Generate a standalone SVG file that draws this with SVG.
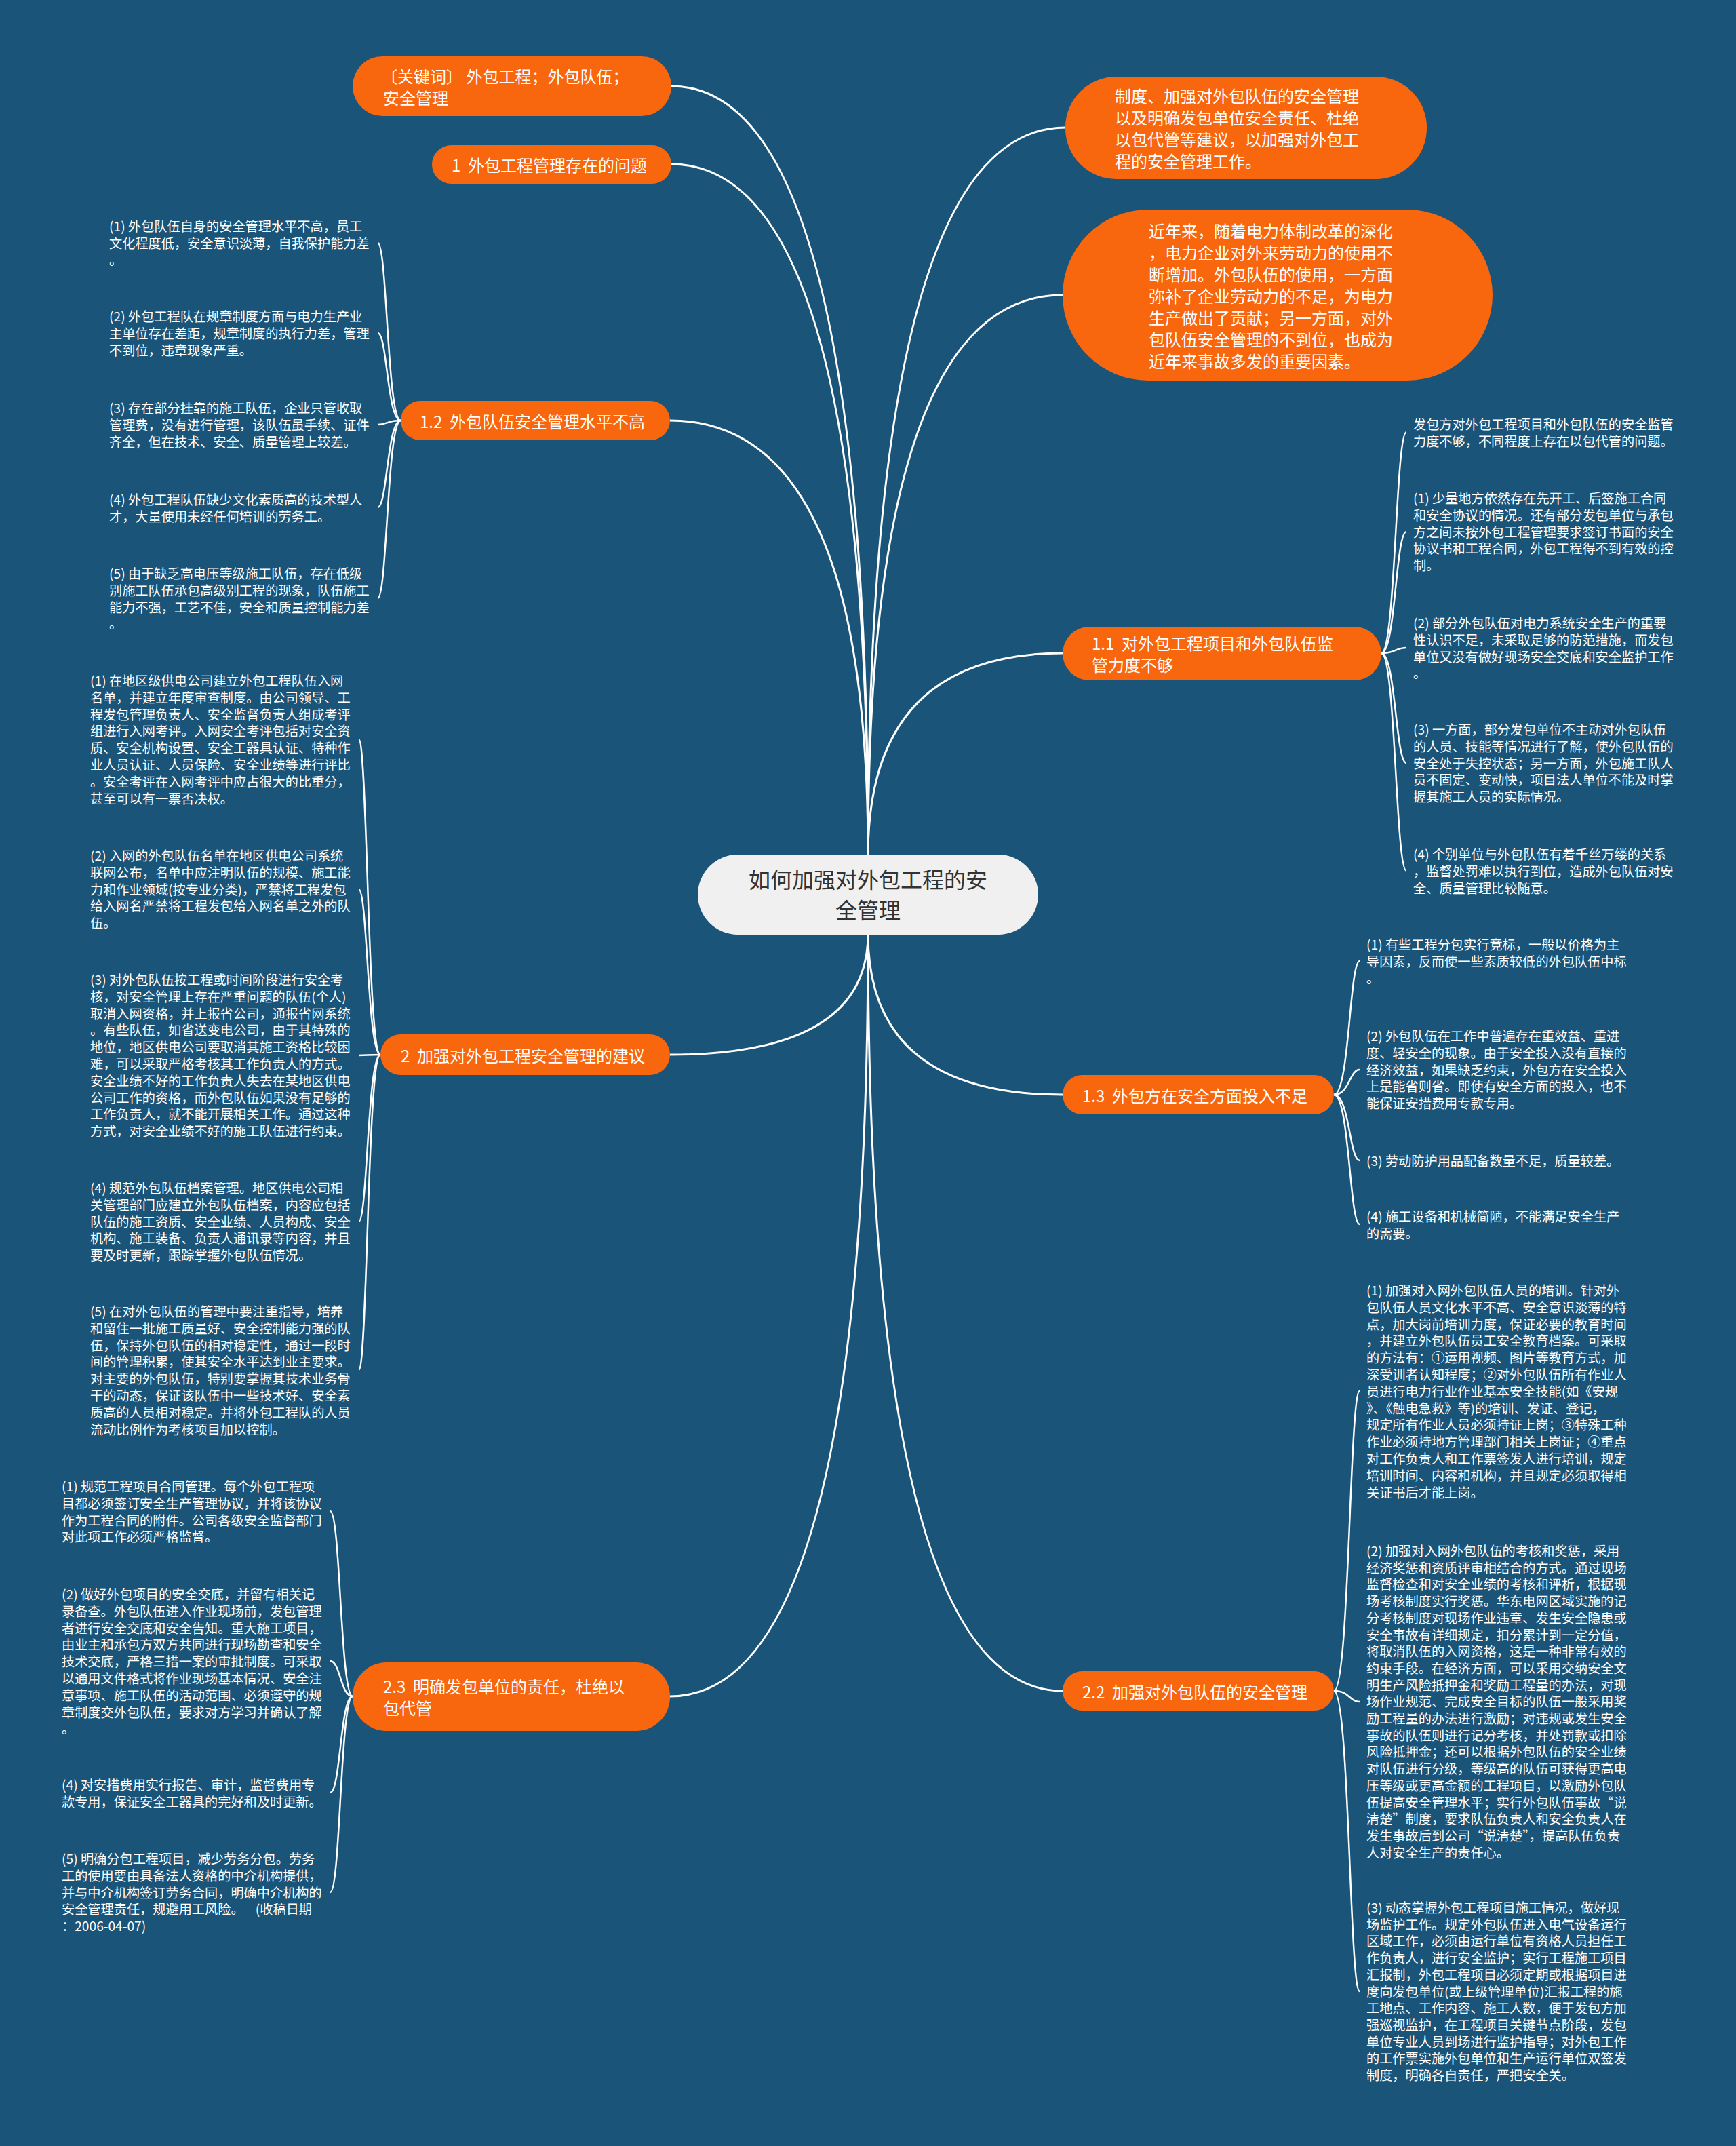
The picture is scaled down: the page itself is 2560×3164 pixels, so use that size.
<svg xmlns="http://www.w3.org/2000/svg" width="2560" height="3164" viewBox="0 0 2560 3164">
<defs>
<style>
text{font-family:"Noto Sans CJK SC","Noto Sans",sans-serif;dominant-baseline:central}
.o rect{fill:#f8660d}
.o text{fill:#ffffff;font-size:24px}
.c rect{fill:#f0f0f0}
.c text{fill:#333333;font-size:32px;text-anchor:middle}
.leaf{fill:#ffffff;font-size:19.2px}
.main{stroke:#ffffff;stroke-width:3;fill:none}
.sub{stroke:#ffffff;stroke-width:2.5;fill:none}
</style>
</defs>
<rect x="0" y="0" width="2560" height="3164" fill="#1a5479"/>

<g id="connectors">
<path class="main" d="M1280,1261 Q1280,127 990,127"/>
<path class="main" d="M1280,1261 Q1280,242 990,242"/>
<path class="main" d="M1280,1261 Q1280,620 988,620"/>
<path class="main" d="M1280,1377 Q1280,1555 988,1555"/>
<path class="main" d="M1280,1377 Q1280,2501 988,2501"/>
<path class="main" d="M1280,1261 Q1280,188 1571,188"/>
<path class="main" d="M1280,1261 Q1280,435 1567,435"/>
<path class="main" d="M1280,1261 Q1280,963 1567,963"/>
<path class="main" d="M1280,1377 Q1280,1614 1567,1614"/>
<path class="main" d="M1280,1377 Q1280,2493 1567,2493"/>

<path class="sub" d="M591,620 C571,620 571,358 557,358"/>
<path class="sub" d="M591,620 C571,620 571,491 557,491"/>
<path class="sub" d="M591,620 C571,620 571,626 557,626"/>
<path class="sub" d="M591,620 C571,620 571,748 557,748"/>
<path class="sub" d="M591,620 C571,620 571,882 557,882"/>

<path class="sub" d="M561,1555 C542,1555 542,1090 529,1090"/>
<path class="sub" d="M561,1555 C542,1555 542,1311 529,1311"/>
<path class="sub" d="M561,1555 C542,1555 542,1556 529,1556"/>
<path class="sub" d="M561,1555 C542,1555 542,1801 529,1801"/>
<path class="sub" d="M561,1555 C542,1555 542,2020 529,2020"/>

<path class="sub" d="M520,2501 C502,2501 502,2228 487,2228"/>
<path class="sub" d="M520,2501 C502,2501 502,2449 487,2449"/>
<path class="sub" d="M520,2501 C502,2501 502,2643 487,2643"/>
<path class="sub" d="M520,2501 C502,2501 502,2790 487,2790"/>

<path class="sub" d="M2037,963 C2058,963 2058,637 2074,637"/>
<path class="sub" d="M2037,963 C2058,963 2058,784 2074,784"/>
<path class="sub" d="M2037,963 C2058,963 2058,955 2074,955"/>
<path class="sub" d="M2037,963 C2058,963 2058,1125 2074,1125"/>
<path class="sub" d="M2037,963 C2058,963 2058,1284 2074,1284"/>

<path class="sub" d="M1967,1614 C1990,1614 1990,1417 2005,1417"/>
<path class="sub" d="M1967,1614 C1990,1614 1990,1577 2005,1577"/>
<path class="sub" d="M1967,1614 C1990,1614 1990,1711 2005,1711"/>
<path class="sub" d="M1967,1614 C1990,1614 1990,1805 2005,1805"/>

<path class="sub" d="M1967,2493 C1990,2493 1990,2051 2005,2051"/>
<path class="sub" d="M1967,2493 C1990,2493 1990,2509 2005,2509"/>
<path class="sub" d="M1967,2493 C1990,2493 1990,2936 2005,2936"/>
</g>

<g id="center" class="c">
<rect x="1029" y="1260" width="502" height="118" rx="59"/>
<text x="1280" y="1295">如何加强对外包工程的安</text>
<text x="1280" y="1340">全管理</text>
</g>

<g id="n-keyword" class="o">
<rect x="520" y="83" width="470" height="88" rx="44"/>
<text x="562" y="111" xml:space="preserve">〔关键词〕 外包工程；外包队伍；</text>
<text x="565" y="143">安全管理</text>
</g>
<g id="n-1" class="o">
<rect x="637" y="214" width="353" height="57" rx="28.5"/>
<text x="666" y="242" xml:space="preserve">1  外包工程管理存在的问题</text>
</g>
<g id="n-1-2" class="o">
<rect x="591" y="591" width="397" height="58" rx="29"/>
<text x="619" y="620" xml:space="preserve">1.2  外包队伍安全管理水平不高</text>
</g>
<g id="n-2" class="o">
<rect x="561" y="1525" width="427" height="60" rx="30"/>
<text x="591" y="1555" xml:space="preserve">2  加强对外包工程安全管理的建议</text>
</g>
<g id="n-2-3" class="o">
<rect x="520" y="2451" width="468" height="101" rx="50"/>
<text x="565" y="2485" xml:space="preserve">2.3  明确发包单位的责任，杜绝以</text>
<text x="565" y="2517">包代管</text>
</g>
<g id="n-zhidu" class="o">
<rect x="1571" y="113" width="533" height="151" rx="75"/>
<text x="1644" y="140.5">制度、加强对外包队伍的安全管理</text>
<text x="1644" y="172.5">以及明确发包单位安全责任、杜绝</text>
<text x="1644" y="204.5">以包代管等建议，以加强对外包工</text>
<text x="1644" y="236.5">程的安全管理工作。</text>
</g>
<g id="n-jinnian" class="o">
<rect x="1567" y="309" width="634" height="252" rx="126"/>
<text x="1694" y="339">近年来，随着电力体制改革的深化</text>
<text x="1694" y="371">，电力企业对外来劳动力的使用不</text>
<text x="1694" y="403">断增加。外包队伍的使用，一方面</text>
<text x="1694" y="435">弥补了企业劳动力的不足，为电力</text>
<text x="1694" y="467">生产做出了贡献；另一方面，对外</text>
<text x="1694" y="499">包队伍安全管理的不到位，也成为</text>
<text x="1694" y="531">近年来事故多发的重要因素。</text>
</g>
<g id="n-1-1" class="o">
<rect x="1567" y="924" width="470" height="79" rx="39.5"/>
<text x="1610" y="947" xml:space="preserve">1.1  对外包工程项目和外包队伍监</text>
<text x="1610" y="979">管力度不够</text>
</g>
<g id="n-1-3" class="o">
<rect x="1567" y="1585" width="400" height="58" rx="29"/>
<text x="1596" y="1614" xml:space="preserve">1.3  外包方在安全方面投入不足</text>
</g>
<g id="n-2-2" class="o">
<rect x="1567" y="2464" width="400" height="58" rx="29"/>
<text x="1596" y="2493" xml:space="preserve">2.2  加强对外包队伍的安全管理</text>
</g>

<g id="l-1-2-1"><text class="leaf" x="161" y="333"><tspan x="161" dy="0">(1) 外包队伍自身的安全管理水平不高，员工</tspan><tspan x="161" dy="24.8">文化程度低，安全意识淡薄，自我保护能力差</tspan><tspan x="161" dy="24.8">。</tspan></text></g>
<g id="l-1-2-2"><text class="leaf" x="161" y="466"><tspan x="161" dy="0">(2) 外包工程队在规章制度方面与电力生产业</tspan><tspan x="161" dy="24.8">主单位存在差距，规章制度的执行力差，管理</tspan><tspan x="161" dy="24.8">不到位，违章现象严重。</tspan></text></g>
<g id="l-1-2-3"><text class="leaf" x="161" y="601"><tspan x="161" dy="0">(3) 存在部分挂靠的施工队伍，企业只管收取</tspan><tspan x="161" dy="24.8">管理费，没有进行管理，该队伍虽手续、证件</tspan><tspan x="161" dy="24.8">齐全，但在技术、安全、质量管理上较差。</tspan></text></g>
<g id="l-1-2-4"><text class="leaf" x="161" y="736"><tspan x="161" dy="0">(4) 外包工程队伍缺少文化素质高的技术型人</tspan><tspan x="161" dy="24.8">才，大量使用未经任何培训的劳务工。</tspan></text></g>
<g id="l-1-2-5"><text class="leaf" x="161" y="845"><tspan x="161" dy="0">(5) 由于缺乏高电压等级施工队伍，存在低级</tspan><tspan x="161" dy="24.8">别施工队伍承包高级别工程的现象，队伍施工</tspan><tspan x="161" dy="24.8">能力不强，工艺不佳，安全和质量控制能力差</tspan><tspan x="161" dy="24.8">。</tspan></text></g>

<g id="l-2-1"><text class="leaf" x="133" y="1003"><tspan x="133" dy="0">(1) 在地区级供电公司建立外包工程队伍入网</tspan><tspan x="133" dy="24.8">名单，并建立年度审查制度。由公司领导、工</tspan><tspan x="133" dy="24.8">程发包管理负责人、安全监督负责人组成考评</tspan><tspan x="133" dy="24.8">组进行入网考评。入网安全考评包括对安全资</tspan><tspan x="133" dy="24.8">质、安全机构设置、安全工器具认证、特种作</tspan><tspan x="133" dy="24.8">业人员认证、人员保险、安全业绩等进行评比</tspan><tspan x="133" dy="24.8">。安全考评在入网考评中应占很大的比重分，</tspan><tspan x="133" dy="24.8">甚至可以有一票否决权。</tspan></text></g>
<g id="l-2-2"><text class="leaf" x="133" y="1261"><tspan x="133" dy="0">(2) 入网的外包队伍名单在地区供电公司系统</tspan><tspan x="133" dy="24.8">联网公布，名单中应注明队伍的规模、施工能</tspan><tspan x="133" dy="24.8">力和作业领域(按专业分类)，严禁将工程发包</tspan><tspan x="133" dy="24.8">给入网名严禁将工程发包给入网名单之外的队</tspan><tspan x="133" dy="24.8">伍。</tspan></text></g>
<g id="l-2-3"><text class="leaf" x="133" y="1444"><tspan x="133" dy="0">(3) 对外包队伍按工程或时间阶段进行安全考</tspan><tspan x="133" dy="24.8">核，对安全管理上存在严重问题的队伍(个人)</tspan><tspan x="133" dy="24.8">取消入网资格，并上报省公司，通报省网系统</tspan><tspan x="133" dy="24.8">。有些队伍，如省送变电公司，由于其特殊的</tspan><tspan x="133" dy="24.8">地位，地区供电公司要取消其施工资格比较困</tspan><tspan x="133" dy="24.8">难，可以采取严格考核其工作负责人的方式。</tspan><tspan x="133" dy="24.8">安全业绩不好的工作负责人失去在某地区供电</tspan><tspan x="133" dy="24.8">公司工作的资格，而外包队伍如果没有足够的</tspan><tspan x="133" dy="24.8">工作负责人，就不能开展相关工作。通过这种</tspan><tspan x="133" dy="24.8">方式，对安全业绩不好的施工队伍进行约束。</tspan></text></g>
<g id="l-2-4"><text class="leaf" x="133" y="1751"><tspan x="133" dy="0">(4) 规范外包队伍档案管理。地区供电公司相</tspan><tspan x="133" dy="24.8">关管理部门应建立外包队伍档案，内容应包括</tspan><tspan x="133" dy="24.8">队伍的施工资质、安全业绩、人员构成、安全</tspan><tspan x="133" dy="24.8">机构、施工装备、负责人通讯录等内容，并且</tspan><tspan x="133" dy="24.8">要及时更新，跟踪掌握外包队伍情况。</tspan></text></g>
<g id="l-2-5"><text class="leaf" x="133" y="1933"><tspan x="133" dy="0">(5) 在对外包队伍的管理中要注重指导，培养</tspan><tspan x="133" dy="24.8">和留住一批施工质量好、安全控制能力强的队</tspan><tspan x="133" dy="24.8">伍，保持外包队伍的相对稳定性，通过一段时</tspan><tspan x="133" dy="24.8">间的管理积累，使其安全水平达到业主要求。</tspan><tspan x="133" dy="24.8">对主要的外包队伍，特别要掌握其技术业务骨</tspan><tspan x="133" dy="24.8">干的动态，保证该队伍中一些技术好、安全素</tspan><tspan x="133" dy="24.8">质高的人员相对稳定。并将外包工程队的人员</tspan><tspan x="133" dy="24.8">流动比例作为考核项目加以控制。</tspan></text></g>

<g id="l-2-3-1"><text class="leaf" x="91" y="2191"><tspan x="91" dy="0">(1) 规范工程项目合同管理。每个外包工程项</tspan><tspan x="91" dy="24.8">目都必须签订安全生产管理协议，并将该协议</tspan><tspan x="91" dy="24.8">作为工程合同的附件。公司各级安全监督部门</tspan><tspan x="91" dy="24.8">对此项工作必须严格监督。</tspan></text></g>
<g id="l-2-3-2"><text class="leaf" x="91" y="2350"><tspan x="91" dy="0">(2) 做好外包项目的安全交底，并留有相关记</tspan><tspan x="91" dy="24.8">录备查。外包队伍进入作业现场前，发包管理</tspan><tspan x="91" dy="24.8">者进行安全交底和安全告知。重大施工项目，</tspan><tspan x="91" dy="24.8">由业主和承包方双方共同进行现场勘查和安全</tspan><tspan x="91" dy="24.8">技术交底，严格三措一案的审批制度。可采取</tspan><tspan x="91" dy="24.8">以通用文件格式将作业现场基本情况、安全注</tspan><tspan x="91" dy="24.8">意事项、施工队伍的活动范围、必须遵守的规</tspan><tspan x="91" dy="24.8">章制度交外包队伍，要求对方学习并确认了解</tspan><tspan x="91" dy="24.8">。</tspan></text></g>
<g id="l-2-3-4"><text class="leaf" x="91" y="2631"><tspan x="91" dy="0">(4) 对安措费用实行报告、审计，监督费用专</tspan><tspan x="91" dy="24.8">款专用，保证安全工器具的完好和及时更新。</tspan></text></g>
<g id="l-2-3-5"><text class="leaf" x="91" y="2740" xml:space="preserve"><tspan x="91" dy="0">(5) 明确分包工程项目，减少劳务分包。劳务</tspan><tspan x="91" dy="24.8">工的使用要由具备法人资格的中介机构提供，</tspan><tspan x="91" dy="24.8">并与中介机构签订劳务合同，明确中介机构的</tspan><tspan x="91" dy="24.8">安全管理责任，规避用工风险。    (收稿日期</tspan><tspan x="91" dy="24.8">：2006-04-07)</tspan></text></g>

<g id="l-1-1-0"><text class="leaf" x="2084" y="625"><tspan x="2084" dy="0">发包方对外包工程项目和外包队伍的安全监管</tspan><tspan x="2084" dy="24.8">力度不够，不同程度上存在以包代管的问题。</tspan></text></g>
<g id="l-1-1-1"><text class="leaf" x="2084" y="734"><tspan x="2084" dy="0">(1) 少量地方依然存在先开工、后签施工合同</tspan><tspan x="2084" dy="24.8">和安全协议的情况。还有部分发包单位与承包</tspan><tspan x="2084" dy="24.8">方之间未按外包工程管理要求签订书面的安全</tspan><tspan x="2084" dy="24.8">协议书和工程合同，外包工程得不到有效的控</tspan><tspan x="2084" dy="24.8">制。</tspan></text></g>
<g id="l-1-1-2"><text class="leaf" x="2084" y="918"><tspan x="2084" dy="0">(2) 部分外包队伍对电力系统安全生产的重要</tspan><tspan x="2084" dy="24.8">性认识不足，未采取足够的防范措施，而发包</tspan><tspan x="2084" dy="24.8">单位又没有做好现场安全交底和安全监护工作</tspan><tspan x="2084" dy="24.8">。</tspan></text></g>
<g id="l-1-1-3"><text class="leaf" x="2084" y="1075"><tspan x="2084" dy="0">(3) 一方面，部分发包单位不主动对外包队伍</tspan><tspan x="2084" dy="24.8">的人员、技能等情况进行了解，使外包队伍的</tspan><tspan x="2084" dy="24.8">安全处于失控状态；另一方面，外包施工队人</tspan><tspan x="2084" dy="24.8">员不固定、变动快，项目法人单位不能及时掌</tspan><tspan x="2084" dy="24.8">握其施工人员的实际情况。</tspan></text></g>
<g id="l-1-1-4"><text class="leaf" x="2084" y="1259"><tspan x="2084" dy="0">(4) 个别单位与外包队伍有着千丝万缕的关系</tspan><tspan x="2084" dy="24.8">，监督处罚难以执行到位，造成外包队伍对安</tspan><tspan x="2084" dy="24.8">全、质量管理比较随意。</tspan></text></g>

<g id="l-1-3-1"><text class="leaf" x="2015" y="1392"><tspan x="2015" dy="0">(1) 有些工程分包实行竞标，一般以价格为主</tspan><tspan x="2015" dy="24.8">导因素，反而使一些素质较低的外包队伍中标</tspan><tspan x="2015" dy="24.8">。</tspan></text></g>
<g id="l-1-3-2"><text class="leaf" x="2015" y="1527"><tspan x="2015" dy="0">(2) 外包队伍在工作中普遍存在重效益、重进</tspan><tspan x="2015" dy="24.8">度、轻安全的现象。由于安全投入没有直接的</tspan><tspan x="2015" dy="24.8">经济效益，如果缺乏约束，外包方在安全投入</tspan><tspan x="2015" dy="24.8">上是能省则省。即使有安全方面的投入，也不</tspan><tspan x="2015" dy="24.8">能保证安措费用专款专用。</tspan></text></g>
<g id="l-1-3-3"><text class="leaf" x="2015" y="1711">(3) 劳动防护用品配备数量不足，质量较差。</text></g>
<g id="l-1-3-4"><text class="leaf" x="2015" y="1793"><tspan x="2015" dy="0">(4) 施工设备和机械简陋，不能满足安全生产</tspan><tspan x="2015" dy="24.8">的需要。</tspan></text></g>

<g id="l-2-2-1"><text class="leaf" x="2015" y="1902"><tspan x="2015" dy="0">(1) 加强对入网外包队伍人员的培训。针对外</tspan><tspan x="2015" dy="24.8">包队伍人员文化水平不高、安全意识淡薄的特</tspan><tspan x="2015" dy="24.8">点，加大岗前培训力度，保证必要的教育时间</tspan><tspan x="2015" dy="24.8">，并建立外包队伍员工安全教育档案。可采取</tspan><tspan x="2015" dy="24.8">的方法有：①运用视频、图片等教育方式，加</tspan><tspan x="2015" dy="24.8">深受训者认知程度；②对外包队伍所有作业人</tspan><tspan x="2015" dy="24.8">员进行电力行业作业基本安全技能(如《安规</tspan><tspan x="2015" dy="24.8">》、《触电急救》等)的培训、发证、登记，</tspan><tspan x="2015" dy="24.8">规定所有作业人员必须持证上岗；③特殊工种</tspan><tspan x="2015" dy="24.8">作业必须持地方管理部门相关上岗证；④重点</tspan><tspan x="2015" dy="24.8">对工作负责人和工作票签发人进行培训，规定</tspan><tspan x="2015" dy="24.8">培训时间、内容和机构，并且规定必须取得相</tspan><tspan x="2015" dy="24.8">关证书后才能上岗。</tspan></text></g>
<g id="l-2-2-2"><text class="leaf" x="2015" y="2286"><tspan x="2015" dy="0">(2) 加强对入网外包队伍的考核和奖惩，采用</tspan><tspan x="2015" dy="24.7">经济奖惩和资质评审相结合的方式。通过现场</tspan><tspan x="2015" dy="24.7">监督检查和对安全业绩的考核和评析，根据现</tspan><tspan x="2015" dy="24.7">场考核制度实行奖惩。华东电网区域实施的记</tspan><tspan x="2015" dy="24.7">分考核制度对现场作业违章、发生安全隐患或</tspan><tspan x="2015" dy="24.7">安全事故有详细规定，扣分累计到一定分值，</tspan><tspan x="2015" dy="24.7">将取消队伍的入网资格，这是一种非常有效的</tspan><tspan x="2015" dy="24.7">约束手段。在经济方面，可以采用交纳安全文</tspan><tspan x="2015" dy="24.7">明生产风险抵押金和奖励工程量的办法，对现</tspan><tspan x="2015" dy="24.7">场作业规范、完成安全目标的队伍一般采用奖</tspan><tspan x="2015" dy="24.7">励工程量的办法进行激励；对违规或发生安全</tspan><tspan x="2015" dy="24.7">事故的队伍则进行记分考核，并处罚款或扣除</tspan><tspan x="2015" dy="24.7">风险抵押金；还可以根据外包队伍的安全业绩</tspan><tspan x="2015" dy="24.7">对队伍进行分级，等级高的队伍可获得更高电</tspan><tspan x="2015" dy="24.7">压等级或更高金额的工程项目，以激励外包队</tspan><tspan x="2015" dy="24.7">伍提高安全管理水平；实行外包队伍事故“说</tspan><tspan x="2015" dy="24.7">清楚”制度，要求队伍负责人和安全负责人在</tspan><tspan x="2015" dy="24.7">发生事故后到公司“说清楚”，提高队伍负责</tspan><tspan x="2015" dy="24.7">人对安全生产的责任心。</tspan></text></g>
<g id="l-2-2-3"><text class="leaf" x="2015" y="2812"><tspan x="2015" dy="0">(3) 动态掌握外包工程项目施工情况，做好现</tspan><tspan x="2015" dy="24.7">场监护工作。规定外包队伍进入电气设备运行</tspan><tspan x="2015" dy="24.7">区域工作，必须由运行单位有资格人员担任工</tspan><tspan x="2015" dy="24.7">作负责人，进行安全监护；实行工程施工项目</tspan><tspan x="2015" dy="24.7">汇报制，外包工程项目必须定期或根据项目进</tspan><tspan x="2015" dy="24.7">度向发包单位(或上级管理单位)汇报工程的施</tspan><tspan x="2015" dy="24.7">工地点、工作内容、施工人数，便于发包方加</tspan><tspan x="2015" dy="24.7">强巡视监护，在工程项目关键节点阶段，发包</tspan><tspan x="2015" dy="24.7">单位专业人员到场进行监护指导；对外包工作</tspan><tspan x="2015" dy="24.7">的工作票实施外包单位和生产运行单位双签发</tspan><tspan x="2015" dy="24.7">制度，明确各自责任，严把安全关。</tspan></text></g>
</svg>
